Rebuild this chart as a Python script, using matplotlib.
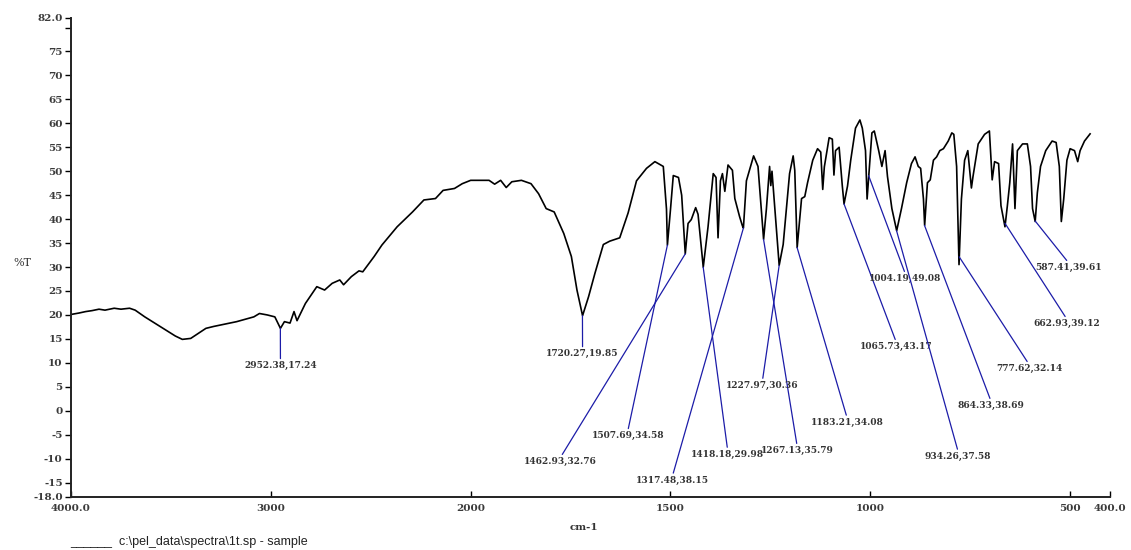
import numpy as np
import matplotlib
matplotlib.use('Agg')
import matplotlib.pyplot as plt

# spectrum trace (cm-1, %T)
wavenumber = [4000, 3960, 3927, 3895, 3860, 3830, 3784, 3750, 3707, 3679, 3631, 3554, 3478, 3443,
              3401, 3325, 3286, 3171, 3085, 3057, 3018, 2980, 2952, 2932, 2904, 2884, 2869, 2827,
              2770, 2731, 2693, 2655, 2636, 2597, 2559, 2540, 2483, 2444, 2368, 2291, 2234, 2176,
              2138, 2081, 2042, 2000, 1954, 1940, 1925, 1911, 1897, 1873, 1849, 1830, 1811, 1791,
              1767, 1748, 1734, 1720, 1705, 1689, 1668, 1652, 1627, 1606, 1585, 1560, 1539,
              1518, 1510, 1507.7, 1500, 1493, 1480, 1472, 1463, 1456, 1448, 1437, 1431, 1418,
              1406, 1393, 1386, 1381, 1375, 1370, 1364, 1356, 1345, 1339, 1327, 1320, 1317.5,
              1310, 1292, 1281, 1267, 1260, 1252, 1249, 1246, 1228, 1218, 1202, 1193, 1189,
              1183, 1172, 1164, 1157, 1144, 1132, 1124, 1119, 1115, 1103, 1095, 1091, 1087,
              1078, 1070, 1065.7, 1057, 1049, 1037, 1026, 1020, 1012, 1008, 1004, 996, 990,
              979, 971, 963, 957, 946, 934, 922, 909, 897, 888, 880, 874, 867, 864, 857, 850,
              842, 834, 826, 817, 805, 796, 791, 784, 778, 772, 764, 756, 747, 743, 730, 714,
              702, 695, 689, 679, 673, 663, 657, 651, 644, 638, 632, 619, 607, 599, 594, 587.4,
              582, 574, 561, 545, 535, 527, 522, 516, 508, 500, 489, 481, 475, 464, 450]
transmittance = [20.1, 20.4, 20.7, 20.9, 21.2, 21.0, 21.4, 21.2, 21.4, 21.0, 19.6, 17.6, 15.6, 14.9,
                 15.1, 17.2, 17.6, 18.6, 19.6, 20.3, 20.0, 19.6, 17.2, 18.6, 18.3, 20.7, 18.8, 22.4,
                 25.9, 25.2, 26.6, 27.3, 26.3, 28.0, 29.2, 29.0, 32.2, 34.6, 38.4, 41.5, 44.0, 44.3,
                 46.0, 46.4, 47.4, 48.1, 48.1, 47.3, 48.1, 46.6, 47.8, 48.1, 47.4, 45.3, 42.2, 41.5,
                 37.0, 32.2, 25.2, 19.85, 23.8, 28.7, 34.7, 35.4, 36.1, 41.3, 48.0, 50.6, 52.0,
                 51.0, 42.1, 34.58, 42.0, 49.1, 48.7, 45.0, 32.76, 39.1, 39.9, 42.4, 41.0, 29.98,
                 38.4, 49.5, 48.7, 36.1, 48.0, 49.5, 45.8, 51.3, 50.2, 44.3, 40.5, 38.6, 38.15,
                 48.0, 53.2, 51.0, 35.79, 42.1, 51.0, 47.0, 50.0, 30.36, 34.7, 49.5, 53.2, 50.2,
                 34.08, 44.3, 44.7, 47.6, 52.3, 54.7, 54.0, 46.2, 50.9, 57.0, 56.7, 49.2, 54.3,
                 55.0, 46.9, 43.17, 46.9, 52.3, 59.0, 60.7, 59.0, 54.3, 44.2, 48.9, 58.0, 58.4,
                 54.3, 51.0, 54.3, 48.9, 42.2, 37.58, 42.2, 47.6, 51.6, 53.0, 51.0, 50.6, 44.2,
                 38.69, 47.6, 48.2, 52.3, 53.0, 54.3, 54.7, 56.3, 58.0, 57.7, 51.0, 30.5, 44.2,
                 52.3, 54.3, 46.5, 48.9, 55.7, 57.7, 58.4, 48.2, 52.0, 51.6, 42.8, 38.4, 42.8,
                 47.6, 55.7, 42.2, 54.3, 55.7, 55.7, 51.0, 42.2, 39.5, 45.5, 51.0, 54.3, 56.3,
                 56.0, 51.0, 39.5, 44.2, 52.3, 54.7, 54.3, 52.0, 54.3, 56.3, 57.8]

# labelled peaks
peak_wn = [2952.38, 1720.27, 1507.69, 1462.93, 1418.18, 1317.48, 1267.13, 1227.97,
           1183.21, 1065.73, 1004.19, 934.26, 864.33, 777.62, 662.93, 587.41]
peak_t = [17.24, 19.85, 34.58, 32.76, 29.98, 38.15, 35.79, 30.36,
          34.08, 43.17, 49.08, 37.58, 38.69, 32.14, 39.12, 39.61]

# where each peak label sits (text top centre)
label_pos = [(2952, 10.3), (1720, 12.8), (1607, -4.3), (1775, -9.7), (1357, -8.2),
             (1495, -13.6), (1183, -7.4), (1270, 6.2), (1058, -1.5), (935, 14.3),
             (912, 28.5), (780, -8.6), (698, 2.0), (603, 9.7), (508, 19.1), (503, 30.8)]

x_ticks = [4000, 3000, 2000, 1500, 1000, 500, 400]
x_ticklabels = ['4000.0', '3000', '2000', '1500', '1000', '500', '400.0']
y_ticks = [82, 80, 75, 70, 65, 60, 55, 50, 45, 40, 35, 30, 25, 20, 15, 10, 5, 0, -5, -10, -15, -18]
y_ticklabels = ['82.0', ''] + [str(v) for v in y_ticks[2:-1]] + ['-18.0']


# x axis is expanded 2x below 2000 cm-1
def fwd(x):
    x = np.asarray(x, dtype=float)
    return np.where(x > 2000, 2000 + (x - 2000) / 2, x)


def inv(u):
    u = np.asarray(u, dtype=float)
    return np.where(u > 2000, 2000 + (u - 2000) * 2, u)


fig = plt.figure(figsize=(11.31, 5.5), dpi=100)
ax = fig.add_axes([0.0628, 0.0964, 0.9187, 0.871])

ax.plot(wavenumber, transmittance, color='black', lw=1.2)

blue = '#1c1ca8'
for w, t, (lx, ly) in zip(peak_wn, peak_t, label_pos):
    ax.annotate(f'{w:.2f},{t:.2f}', xy=(w, t), xytext=(lx, ly), textcoords='data',
                ha='center', va='top', fontsize=6.5, color='#333333',
                family='DejaVu Serif', weight='bold',
                arrowprops=dict(arrowstyle='-', color=blue, lw=0.9,
                                shrinkA=0, shrinkB=0, relpos=(0.5, 1.0)))

ax.set_xscale('function', functions=(fwd, inv))
ax.set_xlim(4000, 400)
ax.set_ylim(-18, 82)

ax.set_xticks(x_ticks)
ax.set_xticklabels(x_ticklabels)
ax.set_yticks(y_ticks)
ax.set_yticklabels(y_ticklabels)
ax.minorticks_off()

for lab in ax.get_xticklabels() + ax.get_yticklabels():
    lab.set_family('DejaVu Serif')
    lab.set_weight('bold')
    lab.set_fontsize(7.5)
    lab.set_color('#3a3a3a')

ax.tick_params(axis='x', direction='in', length=4, width=1, pad=5)
ax.tick_params(axis='y', direction='out', length=4, width=1, pad=2)

for s in ['top', 'right']:
    ax.spines[s].set_visible(False)
for s in ['left', 'bottom']:
    ax.spines[s].set_linewidth(1.4)
    ax.spines[s].set_color('#222222')

ax.set_ylabel('%T', rotation=0, family='DejaVu Serif', fontsize=8, color='#333333')
ax.yaxis.set_label_coords(-0.047, 0.478)
ax.set_xlabel('cm-1', family='DejaVu Serif', weight='bold', fontsize=7.5, color='#333333')
ax.xaxis.set_label_coords(0.494, -0.055)

fig.text(70 / 1131, 1 - 542 / 550, '______  c:\\pel_data\\spectra\\1t.sp - sample',
         fontsize=9, family='Liberation Sans', color='#222222', va='center')

fig.savefig('out.png', dpi=100)
